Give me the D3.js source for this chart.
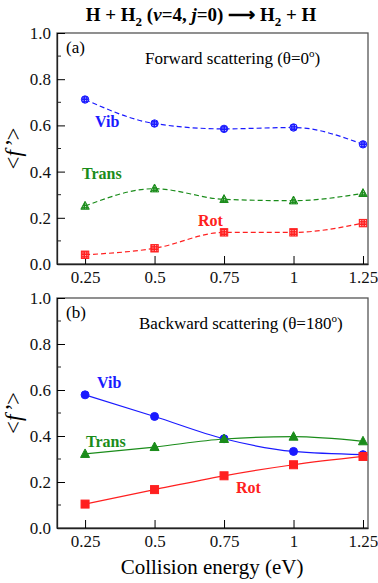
<!DOCTYPE html>
<html>
<head>
<meta charset="utf-8">
<style>
  body { margin: 0; background: #fff; }
</style>
</head>
<body>
<div id="target"></div>
<script src="https://cdnjs.cloudflare.com/ajax/libs/d3/7.8.5/d3.min.js"></script>
<script>
    // collision energies (eV)
    var energies = [0.25, 0.5, 0.75, 1, 1.25];
    var xTickLabels = ['0.25', '0.5', '0.75', '1', '1.25'];
    var yTicks = [0, 0.2, 0.4, 0.6, 0.8, 1.0];

    // panel (a) forward scattering
    var fwdVib = [0.712, 0.608, 0.585, 0.591, 0.518];
    var fwdTrans = [0.251, 0.326, 0.280, 0.274, 0.306];
    var fwdRot = [0.040, 0.068, 0.137, 0.137, 0.177];

    // panel (b) backward scattering
    var bwdVib = [0.579, 0.485, 0.388, 0.333, 0.319];
    var bwdTrans = [0.322, 0.352, 0.387, 0.397, 0.377];
    var bwdRot = [0.104, 0.167, 0.227, 0.275, 0.311];

    var FONT = "'Liberation Serif'";
    var W = 378, H = 583;
    var svg = d3.select('#target').append('svg')
        .attr('width', W).attr('height', H)
        .attr('font-family', 'Liberation Serif');

    // every text goes through this so the serif face sticks
    var txt = function (sel, size) {
        return sel.append('text').style('font-family', FONT).style('font-size', size + 'px');
    };

    // hatched fills for the panel (a) open markers
    var defs = svg.append('defs');
    var mkPattern = function (id, color) {
        var p = defs.append('pattern')
            .attr('id', id)
            .attr('patternUnits', 'userSpaceOnUse')
            .attr('width', 2.5).attr('height', 2.5);
        p.append('rect').attr('width', 2.5).attr('height', 2.5).attr('fill', color);
        p.append('rect').attr('width', 1).attr('height', 1).attr('fill', '#fff').attr('opacity', 0.8);
    };
    mkPattern('hb', '#1a1aff');
    mkPattern('hg', '#1a8c1a');
    mkPattern('hr', '#ff2020');

    var x = d3.scaleLinear().domain([0.149, 1.268]).range([57, 368]);

    // title
    var title = txt(svg, 19)
        .attr('x', 201).attr('y', 21)
        .attr('text-anchor', 'middle')
        .style('font-weight', 'bold');
    title.append('tspan').text('H + H');
    title.append('tspan').attr('dy', 5).style('font-size', '13px').text('2');
    title.append('tspan').attr('dy', -5).text(' (');
    title.append('tspan').style('font-style', 'italic').text('v');
    title.append('tspan').text('=4, ');
    title.append('tspan').style('font-style', 'italic').text('j');
    title.append('tspan').text('=0) \u27F6 H');
    title.append('tspan').attr('dy', 5).style('font-size', '13px').text('2');
    title.append('tspan').attr('dy', -5).text(' + H');

    var series = [
        {name: 'Vib', color: '#1a1aff', pat: 'hb', shape: 'circle'},
        {name: 'Trans', color: '#1a8c1a', pat: 'hg', shape: 'triangle'},
        {name: 'Rot', color: '#ff2020', pat: 'hr', shape: 'square'}
    ];

    var drawPanel = function (cfg) {
        var y = d3.scaleLinear().domain([0, 1]).range([cfg.bottom, cfg.top]);
        var g = svg.append('g');

        // frame
        g.append('rect')
            .attr('x', x.range()[0]).attr('y', cfg.top)
            .attr('width', x.range()[1] - x.range()[0])
            .attr('height', cfg.bottom - cfg.top)
            .attr('fill', 'none').attr('stroke', '#555').attr('stroke-width', 1.3);

        // axes, ticks inward
        var yAxis = d3.axisLeft(y).tickValues(yTicks).tickFormat(d3.format('.1f'))
            .tickSizeInner(-8).tickSizeOuter(0).tickPadding(6);
        var ga = g.append('g').attr('transform', 'translate(' + x.range()[0] + ',0)').call(yAxis);
        ga.attr('font-family', 'Liberation Serif').attr('font-size', 17);
        ga.select('.domain').attr('stroke', '#222').attr('stroke-width', 1.3);
        ga.selectAll('.tick text').attr('fill', '#111')
            .style('font-family', FONT).style('font-size', '17px');
        // minor y ticks
        g.append('g').selectAll('line')
            .data([0.1, 0.3, 0.5, 0.7, 0.9])
            .enter().append('line')
            .attr('x1', x.range()[0]).attr('x2', x.range()[0] + 4)
            .attr('y1', function (d) { return y(d); })
            .attr('y2', function (d) { return y(d); })
            .attr('stroke', '#222');

        var xAxis = d3.axisBottom(x).tickValues(energies)
            .tickFormat(function (d, i) { return xTickLabels[i]; })
            .tickSizeInner(-8).tickSizeOuter(0).tickPadding(7);
        var gx = g.append('g').attr('transform', 'translate(0,' + cfg.bottom + ')').call(xAxis);
        gx.attr('font-family', 'Liberation Serif').attr('font-size', 17);
        gx.select('.domain').attr('stroke', '#222').attr('stroke-width', 1.3);
        gx.selectAll('.tick text').attr('fill', '#111')
            .style('font-family', FONT).style('font-size', '17px');

        // y label <f'>
        var yl = txt(g, 23)
            .attr('transform', 'translate(21,' + ((cfg.top + cfg.bottom) / 2) + ') rotate(-90)')
            .attr('text-anchor', 'middle');
        yl.append('tspan').text('<');
        yl.append('tspan').style('font-style', 'italic').text('f\u2019');
        yl.append('tspan').text('>');

        txt(g, 17).attr('x', 66).attr('y', cfg.top + 20).text(cfg.tag);
        var sub = txt(g, 17).attr('x', cfg.subX).attr('y', cfg.top + 31);
        sub.append('tspan').text(cfg.sub);
        sub.append('tspan').attr('dy', -7).style('font-size', '11px').text('o');
        sub.append('tspan').attr('dy', 7).text(')');

        var line = d3.line()
            .x(function (d, i) { return x(energies[i]); })
            .y(function (d) { return y(d); })
            .curve(d3.curveMonotoneX);

        cfg.data.forEach(function (vals, k) {
            var s = series[k];
            g.append('path')
                .attr('d', line(vals))
                .attr('fill', 'none')
                .attr('stroke', s.color)
                .attr('stroke-width', 1.2)
                .attr('stroke-dasharray', cfg.dashed ? '5,3' : null);

            var sz = cfg.dashed ? 3.7 : 4;
            var fill = cfg.dashed ? 'url(#' + s.pat + ')' : s.color;
            var mk = g.append('g').selectAll('.m').data(vals).enter();
            if (s.shape === 'circle') {
                mk.append('circle')
                    .attr('cx', function (d, i) { return x(energies[i]); })
                    .attr('cy', function (d) { return y(d); })
                    .attr('r', sz)
                    .attr('fill', fill).attr('stroke', s.color).attr('stroke-width', 1);
            } else if (s.shape === 'square') {
                mk.append('rect')
                    .attr('x', function (d, i) { return x(energies[i]) - sz; })
                    .attr('y', function (d) { return y(d) - sz; })
                    .attr('width', 2 * sz).attr('height', 2 * sz)
                    .attr('fill', fill).attr('stroke', s.color).attr('stroke-width', 1);
            } else {
                mk.append('path')
                    .attr('transform', function (d, i) {
                        return 'translate(' + x(energies[i]) + ',' + y(d) + ')';
                    })
                    .attr('d', 'M0,' + (-sz - 1) + ' L' + (sz + 0.5) + ',' + (sz - 0.5) +
                        ' L' + (-sz - 0.5) + ',' + (sz - 0.5) + ' Z')
                    .attr('fill', fill).attr('stroke', s.color).attr('stroke-width', 1);
            }

            var lp = cfg.labels[k];
            txt(g, 16).style('font-weight', 'bold')
                .attr('x', lp[0]).attr('y', lp[1])
                .attr('fill', s.color).text(s.name);
        });
    };

    drawPanel({
        top: 33, bottom: 264, tag: '(a)',
        sub: 'Forward scattering (\u03B8=0', subX: 145,
        dashed: true,
        data: [fwdVib, fwdTrans, fwdRot],
        labels: [[95, 127], [82, 179], [198, 226]]
    });

    drawPanel({
        top: 298, bottom: 528, tag: '(b)',
        sub: 'Backward scattering (\u03B8=180', subX: 139,
        dashed: false,
        data: [bwdVib, bwdTrans, bwdRot],
        labels: [[97, 388], [86, 447], [236, 493]]
    });

    txt(svg, 21)
        .attr('x', 212).attr('y', 574)
        .attr('text-anchor', 'middle')
        .text('Collision energy (eV)');
</script>
</body>
</html>
